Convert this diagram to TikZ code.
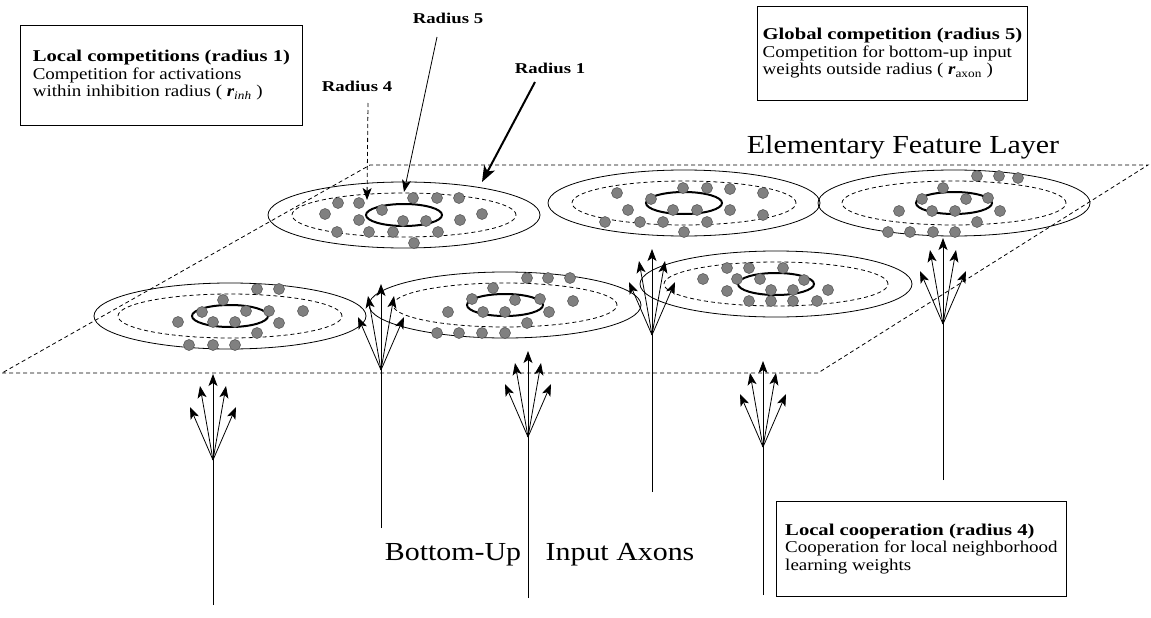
\documentclass[tikz,border=0pt]{standalone}
\usepackage{fontspec}
\setmainfont{Liberation Serif}[FakeStretch=1.15,BoldFeatures={FakeStretch=1.25}]
\usetikzlibrary{arrows.meta,calc}
\definecolor{unitgray}{RGB}{128,128,128}
\definecolor{unitrim}{RGB}{80,80,80}
\newcommand{\notefont}{\fontsize{16.5}{17.5}\selectfont}
\newcommand{\tagfont}{\fontsize{15}{17}\selectfont\bfseries}
\newcommand{\layerfont}{\fontsize{26}{28}\selectfont}
\tikzset{
  infobox/.style={draw,line width=0.9pt,align=left,font=\notefont,inner sep=0pt},
  plane/.style={dash pattern=on 4pt off 3pt,line width=0.8pt},
  outerring/.style={line width=0.8pt},
  coopring/.style={dash pattern=on 4pt off 3pt,line width=0.8pt},
  inhring/.style={line width=2pt},
  unitdot/.style={fill=unitgray,draw=unitrim,line width=0.5pt},
  axon/.style={line width=0.9pt},
  fanarrow/.style={line width=0.8pt,-{Stealth[length=12pt,width=9pt,inset=3pt]}},
  pointer/.style={line width=0.8pt,-{Stealth[length=12pt,width=9pt,inset=3pt]}},
}
\begin{document}
\begin{tikzpicture}[x=1pt,y=-1pt]
  \useasboundingbox (0,0) rectangle (1151,618);

  % feature layer plane
  \coordinate (pbl) at (2,373);
  \coordinate (pbr) at (818,373);
  \coordinate (ptr) at (1148,165);
  \coordinate (ptl) at (370,165);
  \draw[plane] (pbl) -- (pbr) -- (ptr) -- (ptl) -- cycle;
  \node[font=\layerfont] (layer) at (903,147) {Elementary Feature Layer};

  % neurons with their three radii
  \foreach \c/\x/\y in {A/404/215,B/684/203,C/954/203,D/230/316,E/505/305,F/776/284}{
    \coordinate (\c) at (\x,\y);
    \draw[outerring] (\c) ellipse [x radius=136pt,y radius=33pt];
    \draw[coopring] (\c) ellipse [x radius=112pt,y radius=22pt];
    \draw[inhring] (\c) ellipse [x radius=38pt,y radius=11pt];
  }
  \foreach \dx/\dy in {-66/-12,-45/-12,9/-17,33/-17,55/-17,-79/-1,-45/5,-22/-5,-1/6,22/6,56/5,78/-1,-67/17,-35/17,-11/17,34/17,10/28}
    \filldraw[unitdot] ($(A)+(\dx,\dy)$) circle[radius=5.5pt];
  \foreach \dx/\dy in {-67/-10,-33/-4,-1/-15,23/-15,46/-14,79/-10,-56/7,-11/7,13/7,46/7,79/12,-79/19,-44/19,-21/19,23/19,0/29}
    \filldraw[unitdot] ($(B)+(\dx,\dy)$) circle[radius=5.5pt];
  \foreach \dx/\dy in {23/-27,45/-27,64/-25,-11/-15,-32/-4,12/-4,34/-5,-55/8,-22/8,1/8,46/8,23/19,-66/29,-44/29,-21/29,1/29}
    \filldraw[unitdot] ($(C)+(\dx,\dy)$) circle[radius=5.5pt];
  \foreach \dx/\dy in {27/-27,49/-27,-7/-16,-28/-4,16/-5,39/-5,73/-5,-52/6,-17/6,5/6,49/7,27/17,-41/29,-17/29,5/29}
    \filldraw[unitdot] ($(D)+(\dx,\dy)$) circle[radius=5.5pt];
  \foreach \dx/\dy in {22/-27,43/-27,65/-27,-12/-17,-33/-6,10/-5,35/-6,68/-4,-57/7,-22/7,0/7,44/7,22/18,-68/28,-46/28,-23/28,0/28}
    \filldraw[unitdot] ($(E)+(\dx,\dy)$) circle[radius=5.5pt];
  \foreach \dx/\dy in {-27/-16,-49/-16,7/-16,28/-4,-16/-5,-39/-5,-73/-5,52/6,17/6,-5/6,-49/7,-27/17,41/17,17/17,-5/17}
    \filldraw[unitdot] ($(F)+(\dx,\dy)$) circle[radius=5.5pt];

  % bottom-up input axons
  \foreach \n/\bx/\by/\ey in {1/213/460/605,2/381/370/528,3/528/437/598,4/652/335/492,5/763/447/595,6/943/324/480}{
    \coordinate (fan\n) at (\bx,\by);
    \coordinate (foot\n) at (\bx,\ey);
    \draw[axon] (foot\n) -- (fan\n);
    \foreach \k/\dx/\dy in {a/0/-86,b/-13/-74,c/13/-74,d/-23/-53,e/23/-53}{
      \coordinate (tip\n\k) at ($(fan\n)+(\dx,\dy)$);
      \draw[fanarrow] (fan\n) -- (tip\n\k);
    }
  }
  \node[font=\layerfont] (bottomup) at (453,555) {Bottom-Up};
  \node[font=\layerfont] (inaxons) at (620,555) {Input Axons};

  % radius pointers
  \node[font=\tagfont] (rad5) at (448,18) {Radius 5};
  \node[font=\tagfont] (rad4) at (357,86) {Radius 4};
  \node[font=\tagfont] (rad1) at (550,68) {Radius 1};
  \coordinate (r5from) at (437,37);
  \coordinate (r5to) at (404,192);
  \coordinate (r4from) at (368,103);
  \coordinate (r4to) at (367,200);
  \coordinate (r1from) at (535,82);
  \coordinate (r1to) at (482,182);
  \draw[pointer] (r5from) -- (r5to);
  \draw[pointer,dash pattern=on 4pt off 3pt] (r4from) -- (r4to);
  \draw[pointer,line width=2pt,-{Stealth[length=16pt,width=12pt,inset=4pt]}] (r1from) -- (r1to);

  % notes
  \node[infobox,anchor=north west,minimum width=282pt,minimum height=100pt] (localcomp) at (20,25)
    {\textbf{Local competitions (radius 1)}\\Competition for activations\\within inhibition radius ( {\bfseries\itshape r}\textsubscript{\itshape inh} )};
  \node[infobox,anchor=north west,minimum width=270pt,minimum height=94pt] (globalcomp) at (757,6)
    {\textbf{Global competition (radius 5)}\\Competition for bottom-up input\\weights outside radius ( {\bfseries\itshape r}\textsubscript{axon} )};
  \node[infobox,anchor=south west,minimum width=290pt,minimum height=95pt] (localcoop) at (776,597)
    {\textbf{Local cooperation (radius 4)}\\Cooperation for local neighborhood\\learning weights};
\end{tikzpicture}
\end{document}
